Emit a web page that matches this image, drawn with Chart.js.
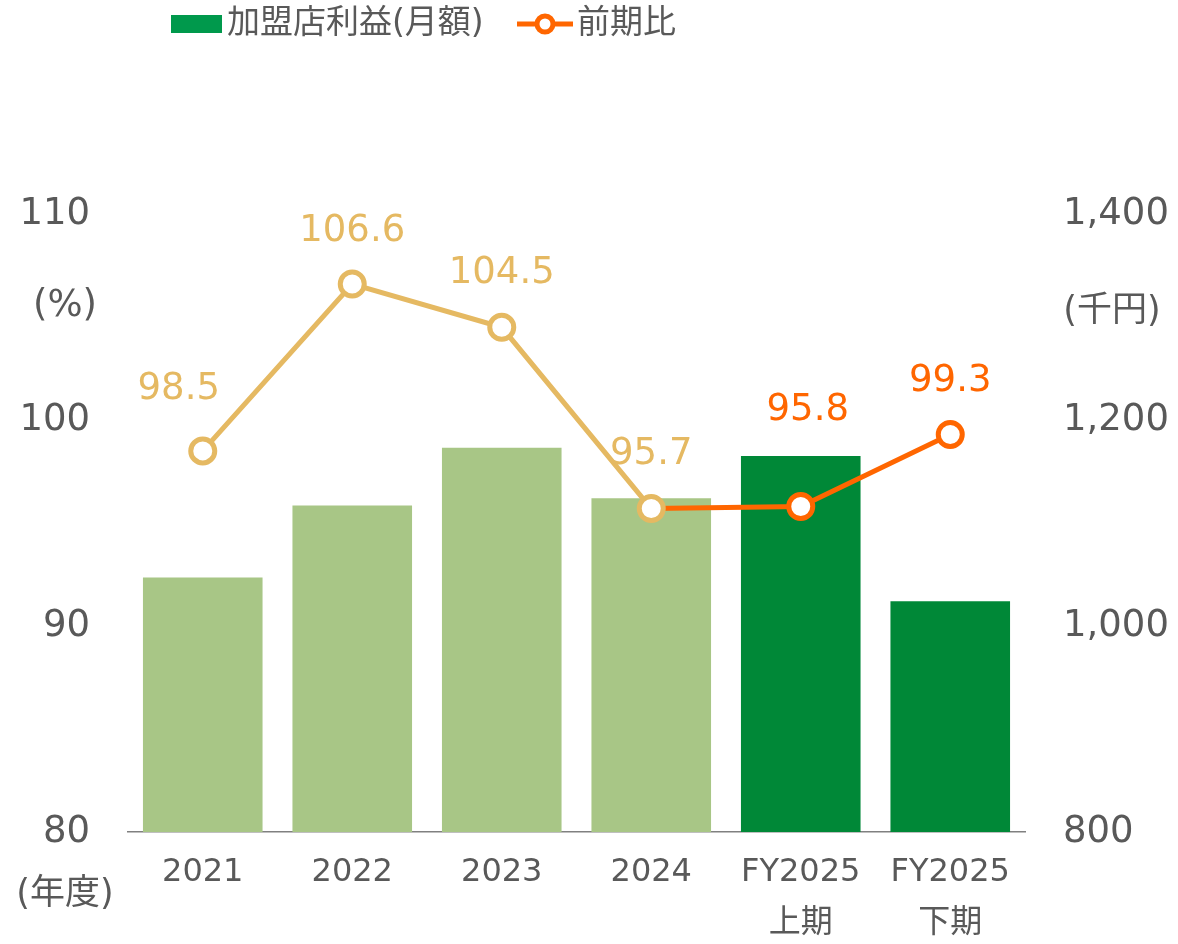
<!DOCTYPE html>
<html><head><meta charset="utf-8">
<script src="https://cdn.jsdelivr.net/npm/chart.js@4/dist/chart.umd.min.js"></script>
<style>html,body{margin:0;padding:0;background:#fff}#wrap{width:1178px;height:944px;position:relative}</style>
</head><body><div id="wrap"><canvas id="c"></canvas></div>
<script>
const categories = [['2021'], ['2022'], ['2023'], ['2024'], ['FY2025', '上期'], ['FY2025', '下期']];
const profitValues = [1047, 1117, 1173, 1124, 1165, 1024];
const ratioValues = [98.5, 106.6, 104.5, 95.7, 95.8, 99.3];
const leftTicks = [80, 90, 100, 110];
const rightTicks = [800, 1000, 1200, 1400];
const seriesNames = ['加盟店利益(月額)', '前期比'];

const labelDx = [-24, 0, 0, 0, 7, 0];
const labelDy = [-62, -53, -54, -54, -96, -53];

const TXT = '#595959';
const LIGHT = '#A8C686', DARK = '#008837', LEG_GREEN = '#00994C';
const GOLD = '#E5B962', ORANGE = '#FF6600';
const FONT = '"DejaVu Sans", "Noto Sans CJK JP", sans-serif';
const isPast = i => i <= 3;

const labelPlugin = {
  id: 'extras',
  afterDatasetsDraw(chart) {
    const ctx = chart.ctx;
    const meta = chart.getDatasetMeta(1);
    ctx.save();
    ctx.font = '37px ' + FONT;
    ctx.textAlign = 'center';
    ctx.textBaseline = 'middle';
    meta.data.forEach((pt, i) => {
      ctx.fillStyle = isPast(i) ? GOLD : ORANGE;
      ctx.fillText(ratioValues[i].toFixed(1), pt.x + labelDx[i], pt.y + labelDy[i]);
    });
    // axis unit labels
    const yl = chart.scales.yL, yr = chart.scales.yR;
    ctx.fillStyle = TXT;
    ctx.font = '37px ' + FONT;
    ctx.fillText('(%)', 65, yl.getPixelForValue(105.5));
    ctx.font = '35px ' + FONT;
    ctx.fillText('(千円)', 1112, yr.getPixelForValue(1305));
    ctx.fillText('(年度)', 65, 895);
    // legend
    ctx.font = '33px ' + FONT;
    ctx.textAlign = 'left';
    ctx.fillStyle = LEG_GREEN;
    ctx.fillRect(171, 15, 51, 18);
    ctx.fillStyle = TXT;
    ctx.fillText(seriesNames[0], 227, 24);
    ctx.strokeStyle = ORANGE;
    ctx.lineWidth = 5;
    ctx.beginPath(); ctx.moveTo(517, 24); ctx.lineTo(573, 24); ctx.stroke();
    ctx.fillStyle = '#fff';
    ctx.beginPath(); ctx.arc(545, 24, 8, 0, Math.PI * 2); ctx.fill(); ctx.stroke();
    ctx.fillStyle = TXT;
    ctx.fillText(seriesNames[1], 577, 24);
    ctx.restore();
  }
};

new Chart(document.getElementById('c'), {
  data: {
    labels: categories,
    datasets: [
      {
        type: 'bar', label: seriesNames[0], data: profitValues, yAxisID: 'yR', order: 2,
        backgroundColor: profitValues.map((v, i) => isPast(i) ? LIGHT : DARK),
        categoryPercentage: 1.0, barPercentage: 0.8
      },
      {
        type: 'line', label: seriesNames[1], data: ratioValues, yAxisID: 'yL', order: 1,
        borderColor: ORANGE, borderWidth: 5,
        segment: { borderColor: c => c.p0DataIndex < 3 ? GOLD : ORANGE },
        pointRadius: 12, pointHoverRadius: 12, pointBorderWidth: 5,
        pointBackgroundColor: '#fff',
        pointBorderColor: ratioValues.map((v, i) => isPast(i) ? GOLD : ORANGE),
        tension: 0
      }
    ]
  },
  options: {
    responsive: true, maintainAspectRatio: false, animation: false,
    layout: { padding: { top: 214, bottom: 0, left: 0, right: 0 } },
    plugins: { legend: { display: false }, tooltip: { enabled: false } },
    scales: {
      x: {
        grid: { display: false, drawTicks: false },
        border: { display: true, color: '#808080', width: 1.5 },
        ticks: { color: TXT, font: { family: FONT, size: 32, lineHeight: 1.6 }, padding: 15, maxRotation: 0, autoSkip: false },
        afterFit: s => { s.height = 112; }
      },
      yL: {
        position: 'left', min: 80, max: 110,
        afterBuildTicks: s => { s.ticks = leftTicks.map(v => ({ value: v })); },
        grid: { display: false, drawTicks: false }, border: { display: false },
        ticks: { color: TXT, font: { family: FONT, size: 37 }, padding: 38 },
        afterFit: s => { s.width = 128; }
      },
      yR: {
        position: 'right', min: 800, max: 1400,
        afterBuildTicks: s => { s.ticks = rightTicks.map(v => ({ value: v })); },
        grid: { display: false, drawTicks: false }, border: { display: false },
        ticks: { color: TXT, font: { family: FONT, size: 37 }, padding: 38, callback: v => v.toLocaleString('en-US') },
        afterFit: s => { s.width = 153; }
      }
    }
  },
  plugins: [labelPlugin]
});
</script></body></html>
